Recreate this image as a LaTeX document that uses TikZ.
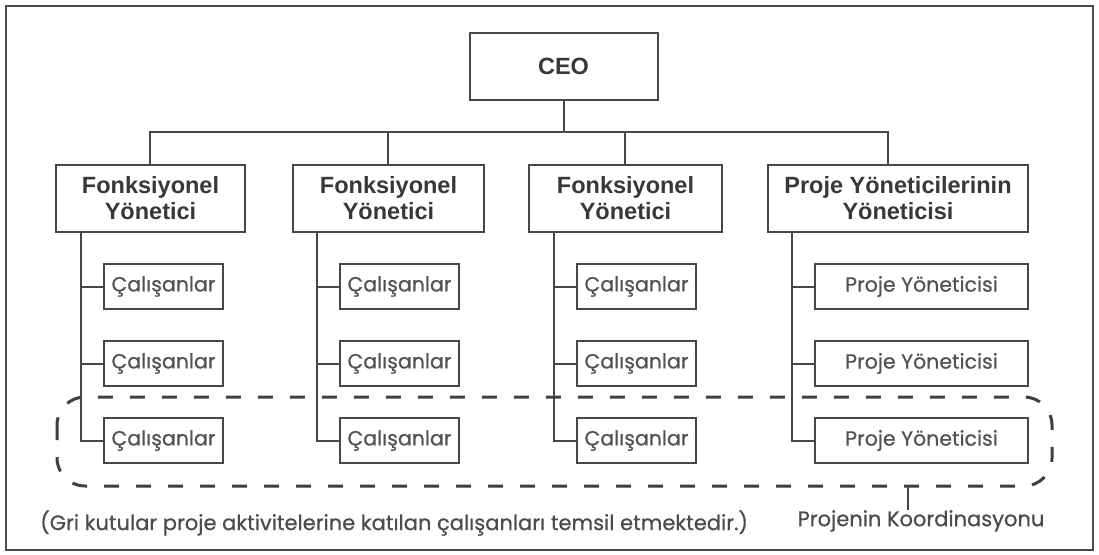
\documentclass[tikz,border=0pt]{standalone}
\usepackage{fontspec}
\setmainfont{Poppins}
\newfontfamily\bodyfont{Poppins}[BoldFont={Poppins}, BoldFeatures={FakeBold=0.6}]
\newfontfamily\headfont{Liberation Sans}
\begin{document}
\begin{tikzpicture}[x=1pt,y=-1pt,
  linecol/.style={draw=black!72, line width=2pt},
  headbox/.style={linecol, rectangle, fill=white, align=center, inner sep=0pt,
    font=\headfont\bfseries\fontsize{23.5}{26}\selectfont, text=black!78},
  itembox/.style={linecol, rectangle, fill=white, inner sep=0pt,
    minimum height=45pt, font=\bodyfont\bfseries\fontsize{20.5}{24}\selectfont, text=black!68},
  link/.style={linecol},
  grouping/.style={draw=black!75, line width=3pt, dash pattern=on 15pt off 17pt, rounded corners=28pt},
  note/.style={font=\bodyfont\bfseries\fontsize{21}{24}\selectfont, text=black!70, inner sep=0pt}
]
\useasboundingbox (0,0) rectangle (1099,554);
\fill[white] (0,0) rectangle (1099,554);
\draw[draw=black!70, line width=2pt] (6,6) rectangle (1093,550);

% top level
\node[headbox, minimum width=188pt, minimum height=67pt] (ceo) at (563.5,66.5) {CEO};

% second level
\node[headbox, minimum width=189pt, minimum height=67pt] (f1) at (150.5,198.5) {Fonksiyonel\\Yönetici};
\node[headbox, minimum width=191pt, minimum height=67pt] (f2) at (388.5,198.5) {Fonksiyonel\\Yönetici};
\node[headbox, minimum width=193pt, minimum height=67pt] (f3) at (625.5,198.5) {Fonksiyonel\\Yönetici};
\node[headbox, minimum width=260pt, minimum height=67pt] (pm) at (898,198.5) {Proje Yöneticilerinin\\Yöneticisi};

% bus from CEO to the managers
\coordinate (bus) at (563.5,132);
\draw[link] (ceo.south) -- (bus);
\draw[link] (f1.north -| 150,0) |- (bus) -| (f2.north -| 388,0);
\draw[link] (bus) -| (f3.north -| 625,0);
\draw[link] (bus) -| (pm.north -| 888,0);

% staff under each functional manager
\foreach \col/\sx/\bx in {1/81/163.5, 2/317/399.5, 3/554/636.5}{
  \node[itembox, minimum width=119pt] (c\col a) at (\bx,286.5) {Çalışanlar};
  \node[itembox, minimum width=119pt] (c\col b) at (\bx,363.5) {Çalışanlar};
  \node[itembox, minimum width=119pt] (c\col c) at (\bx,440.5) {Çalışanlar};
  \coordinate (s\col) at (\sx,232);
  \draw[link] (s\col) |- (c\col c.west);
  \draw[link] (s\col |- c\col a.west) -- (c\col a.west);
  \draw[link] (s\col |- c\col b.west) -- (c\col b.west);
}

% project managers
\node[itembox, minimum width=213pt] (p1) at (921.5,286.5) {Proje Yöneticisi};
\node[itembox, minimum width=213pt] (p2) at (921.5,363.5) {Proje Yöneticisi};
\node[itembox, minimum width=213pt] (p3) at (921.5,440.5) {Proje Yöneticisi};
\coordinate (s4) at (792,232);
\draw[link] (s4) |- (p3.west);
\draw[link] (s4 |- p1.west) -- (p1.west);
\draw[link] (s4 |- p2.west) -- (p2.west);

% project coordination group
\draw[grouping] (57,397) rectangle (1052,486);
\coordinate (grp) at (908,486);
\node[note, anchor=north] (coord) at (921,510) {Projenin Koordinasyonu};
\draw[link] (grp) -- (grp |- coord.north);

% footnote
\node[note, anchor=west] (foot) at (40,523) {(Gri kutular proje aktivitelerine katılan çalışanları temsil etmektedir.)};
\end{tikzpicture}
\end{document}
